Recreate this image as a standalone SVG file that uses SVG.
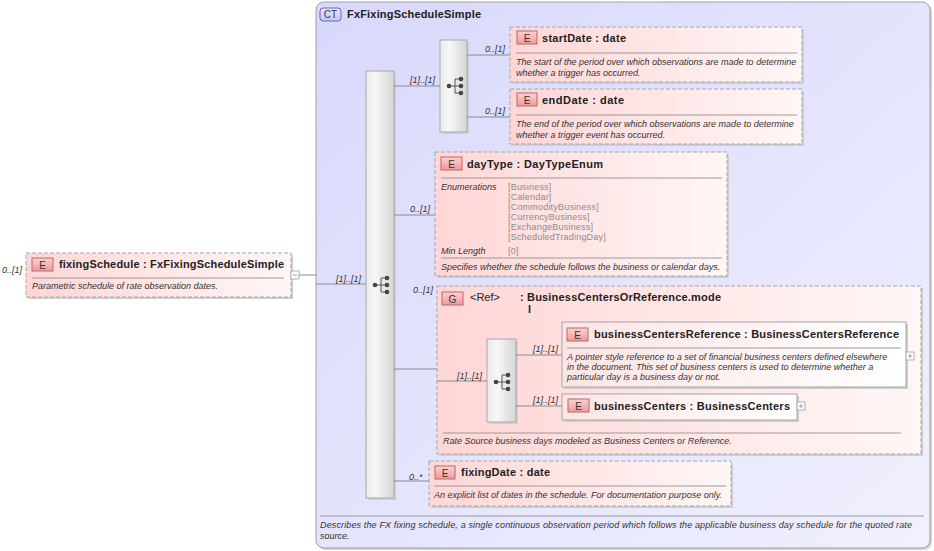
<svg xmlns="http://www.w3.org/2000/svg" width="934" height="551" viewBox="0 0 934 551">
<style>
text{font-family:"Liberation Sans",Arial,sans-serif;fill:#222}
.title{font-size:11px;font-weight:bold}
.desc{font-size:9px;font-style:italic;fill:#333}
.lbl{font-size:9px;font-style:italic;fill:#333}
.enum{font-size:9px;fill:#8c8c8c;letter-spacing:0.2px}
.bt{font-size:10px;text-anchor:middle;fill:#333}
.opt{fill:url(#gPink);stroke:#a6a6a6;stroke-dasharray:4 2}
.req{fill:url(#gPinkLight);stroke:#a6a6a6}
.shadow{fill:#cfcfcf}
.badge{fill:url(#gBadge);stroke:#b46a6a}
.sep{stroke:#9a9a9a;stroke-width:1}
.conn{stroke:#8a8a8a;stroke-width:1;fill:none}
.seq{fill:url(#gSeq);stroke:#a8a8a8}
.pm{fill:#fff;stroke:#b0b0b0}
.pml{stroke:#a0a0a0}
</style>
<defs>
<linearGradient id="gPink" x1="0" y1="0" x2="1" y2="0">
<stop offset="0" stop-color="#ffd6d6"/>
<stop offset="1" stop-color="#fff6f6"/>
</linearGradient>
<linearGradient id="gPinkLight" x1="0" y1="0" x2="1" y2="0">
<stop offset="0" stop-color="#fde4e4"/>
<stop offset="1" stop-color="#ffffff"/>
</linearGradient>
<linearGradient id="gCT" x1="0" y1="0" x2="1" y2="1">
<stop offset="0" stop-color="#d8d8fc"/>
<stop offset="1" stop-color="#f0f0ff"/>
</linearGradient>
<linearGradient id="gBadge" x1="0" y1="0" x2="0" y2="1">
<stop offset="0" stop-color="#fdd0d0"/>
<stop offset="1" stop-color="#ef9a9a"/>
</linearGradient>
<linearGradient id="gBadgeCT" x1="0" y1="0" x2="0" y2="1">
<stop offset="0" stop-color="#e6e6ff"/>
<stop offset="1" stop-color="#c4c4f4"/>
</linearGradient>
<linearGradient id="gSeq" x1="0" y1="0" x2="1" y2="0">
<stop offset="0" stop-color="#ebebeb"/>
<stop offset="0.35" stop-color="#f7f7f7"/>
<stop offset="1" stop-color="#d6d6d6"/>
</linearGradient>
<g id="seqIcon">
<path d="M-6,0H0M0,-7V7M0,-7H6M0,0H6M0,7H6" stroke="#555" stroke-width="1" fill="none"/>
<circle cx="-6" cy="0" r="2.3" fill="#444"/>
<circle cx="6" cy="-7" r="2.3" fill="#444"/>
<circle cx="6" cy="0" r="2.3" fill="#444"/>
<circle cx="6" cy="7" r="2.3" fill="#444"/>
</g>
</defs>

<rect width="934" height="551" fill="#ffffff"/>

<!-- complex type container -->
<g id="ct-FxFixingScheduleSimple">
<rect x="318" y="4" width="614" height="546" rx="8" fill="#d4d4d4"/>
<rect x="316" y="2" width="614" height="546" rx="8" fill="url(#gCT)" stroke="#a0a0a0"/>
<rect x="320" y="8" width="21" height="13" rx="3" fill="url(#gBadgeCT)" stroke="#6a6aa8"/>
<text class="bt" x="330.5" y="18">CT</text>
<text class="title" x="347" y="18" textLength="134" lengthAdjust="spacing">FxFixingScheduleSimple</text>
<line class="sep" x1="320" y1="516" x2="924" y2="516"/>
<text class="desc" x="320" y="527.5" textLength="592" lengthAdjust="spacing">Describes the FX fixing schedule, a single continuous observation period which follows the applicable business day schedule for the quoted rate</text>
<text class="desc" x="320" y="538.5">source.</text>
</g>

<!-- root element -->
<g id="fixingSchedule">
<rect class="shadow" x="28" y="255" width="265" height="44"/>
<rect class="opt" x="26" y="253" width="265" height="44"/>
<rect class="badge" x="32" y="258" width="21" height="13"/>
<text class="bt" x="42.5" y="268.5">E</text>
<text class="title" x="59" y="267.5" textLength="225" lengthAdjust="spacing">fixingSchedule : FxFixingScheduleSimple</text>
<line class="sep" x1="32" y1="278" x2="284" y2="278"/>
<text class="desc" x="32" y="289">Parametric schedule of rate observation dates.</text>
<rect class="pm" x="291" y="271" width="8" height="8"/>
<line class="pml" x1="293" y1="275" x2="297" y2="275"/>
</g>

<!-- main sequence -->
<g id="seq-main">
<rect x="368" y="73" width="28" height="427" fill="#d0d0d0"/>
<rect class="seq" x="366" y="71" width="28" height="427"/>
<use href="#seqIcon" x="381" y="285"/>
</g>

<!-- inner sequence for dates -->
<g id="seq-dates">
<rect x="442" y="42" width="27" height="92" fill="#d0d0d0"/>
<rect class="seq" x="440" y="40" width="27" height="92"/>
<use href="#seqIcon" x="455" y="86"/>
</g>

<g id="startDate">
<rect class="shadow" x="512" y="29" width="292" height="55"/>
<rect class="opt" x="510" y="27" width="292" height="55"/>
<rect class="badge" x="517" y="31" width="20" height="13"/>
<text class="bt" x="527" y="41.5">E</text>
<text class="title" x="542" y="42" textLength="84" lengthAdjust="spacing">startDate : date</text>
<line class="sep" x1="516" y1="53" x2="797" y2="53"/>
<text class="desc" x="516" y="65">The start of the period over which observations are made to determine</text>
<text class="desc" x="516" y="76">whether a trigger has occurred.</text>
</g>

<g id="endDate">
<rect class="shadow" x="512" y="91" width="292" height="55"/>
<rect class="opt" x="510" y="89" width="292" height="55"/>
<rect class="badge" x="517" y="93" width="20" height="13"/>
<text class="bt" x="527" y="103.5">E</text>
<text class="title" x="542" y="104" textLength="82" lengthAdjust="spacing">endDate : date</text>
<line class="sep" x1="516" y1="115" x2="797" y2="115"/>
<text class="desc" x="516" y="127">The end of the period over which observations are made to determine</text>
<text class="desc" x="516" y="138">whether a trigger event has occurred.</text>
</g>

<g id="dayType">
<rect class="shadow" x="437" y="154" width="292" height="124"/>
<rect class="opt" x="435" y="152" width="292" height="124"/>
<rect class="badge" x="441" y="157" width="21" height="13"/>
<text class="bt" x="451.5" y="167.5">E</text>
<text class="title" x="467" y="167.5" textLength="136" lengthAdjust="spacing">dayType : DayTypeEnum</text>
<line class="sep" x1="441" y1="178" x2="722" y2="178"/>
<text class="desc" x="441" y="189.5">Enumerations</text>
<text class="enum" x="508" y="189.5">[Business]</text>
<text class="enum" x="508" y="199.5">[Calendar]</text>
<text class="enum" x="508" y="209.5">[CommodityBusiness]</text>
<text class="enum" x="508" y="219.5">[CurrencyBusiness]</text>
<text class="enum" x="508" y="229.5">[ExchangeBusiness]</text>
<text class="enum" x="508" y="239.5">[ScheduledTradingDay]</text>
<text class="desc" x="441" y="253.5">Min Length</text>
<text class="enum" x="508" y="253.5">[0]</text>
<line class="sep" x1="441" y1="258" x2="722" y2="258"/>
<text class="desc" x="441" y="270">Specifies whether the schedule follows the business or calendar days.</text>
</g>

<g id="group-BusinessCentersOrReference">
<rect class="shadow" x="439" y="288" width="484" height="168"/>
<rect class="opt" x="437" y="286" width="484" height="168"/>
<rect class="badge" x="442" y="292" width="21" height="13"/>
<text class="bt" x="452.5" y="302.5">G</text>
<text class="title" x="470" y="301" style="font-weight:normal">&lt;Ref&gt;</text>
<text class="title" x="520" y="301">:</text>
<text class="title" x="527" y="301" textLength="194" lengthAdjust="spacing">BusinessCentersOrReference.mode</text>
<text class="title" x="528" y="312.5">l</text>
<line class="sep" x1="443" y1="433" x2="901" y2="433"/>
<text class="desc" x="443" y="444">Rate Source business days modeled as Business Centers or Reference.</text>
</g>

<g id="seq-choiceRef">
<rect x="489" y="341" width="29" height="83" fill="#d0d0d0"/>
<rect class="seq" x="487" y="339" width="29" height="83"/>
<use href="#seqIcon" x="502" y="382"/>
</g>

<g id="businessCentersReference">
<rect class="shadow" x="564" y="324" width="344" height="65"/>
<rect class="req" x="562" y="322" width="344" height="65"/>
<rect class="badge" x="567" y="328" width="21" height="13"/>
<text class="bt" x="577.5" y="338.5">E</text>
<text class="title" x="594" y="338" textLength="305" lengthAdjust="spacing">businessCentersReference : BusinessCentersReference</text>
<line class="sep" x1="567" y1="348" x2="901" y2="348"/>
<text class="desc" x="567" y="359.5">A pointer style reference to a set of financial business centers defined elsewhere</text>
<text class="desc" x="567" y="369.5">in the document. This set of business centers is used to determine whether a</text>
<text class="desc" x="567" y="379.5">particular day is a business day or not.</text>
<rect class="pm" x="906" y="352" width="8" height="8"/>
<path class="pml" d="M908,356H912M910,354V358"/>
</g>

<g id="businessCenters">
<rect class="shadow" x="564" y="396" width="235" height="26"/>
<rect class="req" x="562" y="394" width="235" height="26"/>
<rect class="badge" x="568" y="399" width="21" height="13"/>
<text class="bt" x="578.5" y="409.5">E</text>
<text class="title" x="594" y="409.5" textLength="196" lengthAdjust="spacing">businessCenters : BusinessCenters</text>
<rect class="pm" x="797" y="402" width="8" height="8"/>
<path class="pml" d="M799,406H803M801,404V408"/>
</g>

<g id="fixingDate">
<rect class="shadow" x="431" y="463" width="302" height="45"/>
<rect class="opt" x="429" y="461" width="302" height="45"/>
<rect class="badge" x="435" y="466" width="20" height="13"/>
<text class="bt" x="445" y="476.5">E</text>
<text class="title" x="461" y="476" textLength="89" lengthAdjust="spacing">fixingDate : date</text>
<line class="sep" x1="434" y1="486" x2="726" y2="486"/>
<text class="desc" x="434" y="497.5">An explicit list of dates in the schedule. For documentation purpose only.</text>
</g>

<!-- connectors -->
<g id="connectors">
<path class="conn" d="M299,275H316"/>
<path class="conn" d="M316,284H366"/>
<path class="conn" d="M394,86H440"/>
<path class="conn" d="M467,55H510"/>
<path class="conn" d="M467,117H510"/>
<path class="conn" d="M394,215H435"/>
<path class="conn" d="M394,369H437"/>
<path class="conn" d="M437,381H487"/>
<path class="conn" d="M516,355H562"/>
<path class="conn" d="M516,406H562"/>
<path class="conn" d="M394,481H429"/>
<text class="lbl" x="2" y="273">0..[1]</text>
<text class="lbl" x="336" y="281.5">[1]..[1]</text>
<text class="lbl" x="410" y="83">[1]..[1]</text>
<text class="lbl" x="485" y="52">0..[1]</text>
<text class="lbl" x="485" y="114">0..[1]</text>
<text class="lbl" x="410" y="212">0..[1]</text>
<text class="lbl" x="413" y="293">0..[1]</text>
<text class="lbl" x="457" y="378.5">[1]..[1]</text>
<text class="lbl" x="533" y="352">[1]..[1]</text>
<text class="lbl" x="533" y="403">[1]..[1]</text>
<text class="lbl" x="409" y="480">0..*</text>
</g>
</svg>
